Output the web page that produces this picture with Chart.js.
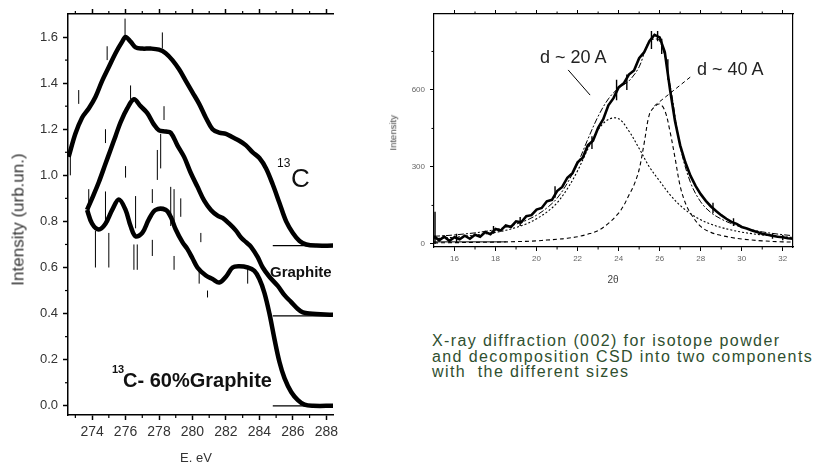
<!DOCTYPE html>
<html lang="en">
<head>
<meta charset="UTF-8">
<title>XANES and X-ray diffraction</title>
<script src="https://cdn.jsdelivr.net/npm/chart.js"></script>
<style>
  body { margin: 0; background: #fff; width: 817px; height: 464px; position: relative; overflow: hidden; }
  canvas { position: absolute; }
  .lbl { position: absolute; white-space: nowrap; line-height: 1; font-family: "Liberation Sans", Arial, sans-serif; color: #111; }
</style>
</head>
<body>
<canvas id="xanes" width="345" height="464" style="left:0;top:0"></canvas>
<canvas id="xrd" width="437" height="300" style="left:380px;top:0"></canvas>

<!-- left panel texts -->
<div class="lbl" style="left:-62px;top:211px;width:160px;text-align:center;font-size:17px;color:#333;transform:rotate(-90deg)">Intensity (urb.un.)</div>
<div class="lbl" style="left:166px;top:451px;width:60px;text-align:center;font-size:13px;color:#333">E. eV</div>
<div class="lbl" style="left:277px;top:157px;font-size:12px">13</div>
<div class="lbl" style="left:291px;top:165px;font-size:26px">C</div>
<div class="lbl" style="left:270px;top:264px;font-size:15px;font-weight:bold">Graphite</div>
<div class="lbl" style="left:112px;top:364px;font-size:11px;font-weight:bold">13</div>
<div class="lbl" style="left:123px;top:370px;font-size:20px;font-weight:bold">C- 60%Graphite</div>

<!-- right panel texts -->
<div class="lbl" style="left:540px;top:48px;font-size:18px;color:#222">d ~ 20 A</div>
<div class="lbl" style="left:697px;top:60px;font-size:18px;color:#222">d ~ 40 A</div>
<div class="lbl" style="left:363px;top:128px;width:60px;text-align:center;font-size:9.5px;color:#444;transform:rotate(-90deg)">Intensity</div>
<div class="lbl" style="left:598px;top:275px;width:30px;text-align:center;font-size:10px;color:#444">2θ</div>
<div class="lbl" style="left:432px;top:333px;font-size:16px;line-height:15.5px;letter-spacing:1.4px;color:#2f4f2f">X-ray diffraction (002) for isotope powder<br>and decomposition CSD into two components<br>with&nbsp; the different sizes</div>

<script>
// ---------- left panel : E (eV) vs intensity ----------
const e13C = [272.6, 273.0, 273.4, 273.8, 274.2, 274.6, 275.0, 275.4, 275.8, 276.0, 276.3, 276.6, 277.0, 277.5, 278.0, 278.4, 278.8, 279.2, 279.6, 280.0, 280.4, 280.8, 281.2, 281.6, 282.0, 282.4, 282.8, 283.2, 283.6, 284.0, 284.4, 284.8, 285.2, 285.6, 286.0, 286.4, 286.8, 287.4, 288.4];
const i13C = [1.08, 1.18, 1.25, 1.29, 1.34, 1.41, 1.47, 1.53, 1.58, 1.60, 1.58, 1.555, 1.55, 1.55, 1.545, 1.53, 1.50, 1.46, 1.41, 1.36, 1.31, 1.25, 1.20, 1.185, 1.18, 1.165, 1.15, 1.13, 1.10, 1.075, 1.03, 0.96, 0.88, 0.80, 0.75, 0.715, 0.70, 0.695, 0.695];

const eGraph = [273.7, 274.0, 274.4, 274.8, 275.1, 275.4, 275.7, 276.1, 276.5, 276.9, 277.3, 277.7, 278.0, 278.4, 278.7, 279.1, 279.5, 279.9, 280.3, 280.7, 281.1, 281.5, 281.8, 282.2, 282.6, 282.9, 283.2, 283.5, 283.9, 284.2, 284.6, 285.1, 285.5, 285.9, 286.3, 286.6, 287.0, 288.4];
const iGraph = [0.85, 0.90, 0.97, 1.05, 1.11, 1.17, 1.23, 1.29, 1.33, 1.30, 1.27, 1.22, 1.195, 1.19, 1.185, 1.13, 1.08, 1.01, 0.95, 0.89, 0.85, 0.825, 0.815, 0.79, 0.76, 0.73, 0.71, 0.69, 0.645, 0.60, 0.56, 0.52, 0.48, 0.45, 0.42, 0.405, 0.40, 0.395];

const eMix = [273.7, 274.0, 274.4, 274.8, 275.2, 275.6, 276.0, 276.3, 276.6, 277.0, 277.4, 277.8, 278.4, 278.7, 279.0, 279.4, 279.7, 280.0, 280.3, 280.8, 281.2, 281.6, 282.0, 282.4, 282.8, 283.3, 283.7, 284.0, 284.3, 284.6, 284.9, 285.2, 285.5, 285.9, 286.3, 286.7, 287.2, 288.4];
const iMix = [0.85, 0.79, 0.765, 0.79, 0.85, 0.895, 0.85, 0.78, 0.735, 0.75, 0.81, 0.85, 0.85, 0.82, 0.765, 0.71, 0.68, 0.64, 0.60, 0.565, 0.55, 0.535, 0.56, 0.60, 0.605, 0.60, 0.585, 0.55, 0.49, 0.40, 0.29, 0.19, 0.12, 0.06, 0.025, 0.005, 0.0, 0.0];

// thin reference lines under the curve ends
const baseE = [284.8, 288.4];
const baseLevels = [0.695, 0.39, 0.0];

// raw-data spikes (E, low, high)
const spikeE  = [275.97, 278.2, 274.9, 273.2, 276.3, 278.3, 278.1, 276.0, 274.8, 273.8, 274.8, 275.0, 274.2, 276.6, 276.5, 276.7, 277.6, 277.9, 278.7, 278.9, 279.3, 277.6, 280.5, 280.4, 278.9, 280.9, 283.3, 272.7];
const spikeLo = [1.60, 1.55, 1.50, 1.31, 1.33, 1.24, 1.03, 0.99, 1.14, 0.86, 0.80, 0.60, 0.60, 0.77, 0.59, 0.59, 0.88, 0.98, 0.78, 0.80, 0.82, 0.65, 0.71, 0.53, 0.59, 0.47, 0.53, 1.00];
const spikeHi = [1.68, 1.62, 1.56, 1.37, 1.39, 1.30, 1.18, 1.04, 1.20, 0.94, 0.93, 0.75, 0.76, 0.91, 0.70, 0.70, 0.94, 1.11, 0.95, 0.94, 0.90, 0.72, 0.75, 0.59, 0.65, 0.50, 0.60, 1.10];

const eTicks = [274, 276, 278, 280, 282, 284, 286, 288];
const eMinor = [273, 275, 277, 279, 281, 283, 285, 287];
const iTicks = [0.0, 0.2, 0.4, 0.6, 0.8, 1.0, 1.2, 1.4, 1.6];
const iMinor = [0.1, 0.3, 0.5, 0.7, 0.9, 1.1, 1.3, 1.5];

// ---------- right panel : 2 theta vs intensity ----------
const tMeas = [15.00, 15.25, 15.50, 15.75, 16.00, 16.25, 16.50, 16.75, 17.00, 17.25, 17.50, 17.75, 18.00, 18.25, 18.50, 18.75, 19.00, 19.25, 19.50, 19.75, 20.00, 20.25, 20.50, 20.75, 21.00, 21.25, 21.50, 21.75, 22.00, 22.25, 22.50, 22.75, 23.00, 23.25, 23.50, 23.75, 24.00, 24.25, 24.50, 24.75, 25.00, 25.25, 25.50, 25.75, 26.00, 26.25, 26.50, 26.75, 27.00, 27.25, 27.50, 27.75, 28.00, 28.25, 28.50, 28.75, 29.00, 29.25, 29.50, 29.75, 30.00, 30.25, 30.50, 30.75, 31.00, 31.25, 31.50, 31.75, 32.00, 32.25, 32.50];
const iMeas = [30, 14, 28, 12, 26, 18, 32, 20, 36, 28, 46, 38, 58, 52, 72, 66, 88, 84, 108, 112, 134, 140, 166, 172, 206, 222, 258, 276, 318, 336, 384, 402, 452, 486, 540, 568, 610, 626, 660, 676, 724, 748, 790, 815, 805, 748, 604, 478, 384, 318, 266, 226, 194, 168, 146, 128, 112, 98, 86, 78, 66, 60, 52, 46, 40, 36, 32, 28, 26, 22, 20];

const tComp1 = [15.0, 15.5, 16.0, 16.5, 17.0, 17.5, 18.0, 18.5, 19.0, 19.5, 20.0, 20.5, 21.0, 21.5, 22.0, 22.5, 23.0, 23.5, 24.0, 24.5, 25.0, 25.5, 26.0, 26.5, 27.0, 27.5, 28.0, 28.5, 29.0, 29.5, 30.0, 30.5, 31.0, 31.5, 32.0, 32.5];
const iComp1 = [20, 23, 26, 30, 34, 39, 45, 53, 64, 78, 98, 124, 160, 215, 285, 370, 445, 485, 488, 440, 372, 300, 245, 192, 150, 118, 94, 77, 64, 54, 46, 40, 35, 31, 28, 25];

const tComp2 = [15.0, 16.0, 17.0, 18.0, 19.0, 19.5, 20.0, 20.5, 21.0, 21.5, 22.0, 22.5, 23.0, 23.5, 24.0, 24.25, 24.5, 24.75, 25.0, 25.25, 25.5, 25.75, 26.0, 26.25, 26.5, 26.75, 27.0, 27.25, 27.5, 28.0, 28.5, 29.0, 29.5, 30.0, 31.0, 32.0, 32.5];
const iComp2 = [4, 5, 6, 7, 9, 10, 12, 15, 18, 22, 28, 38, 52, 80, 120, 150, 190, 230, 290, 395, 505, 535, 545, 520, 440, 335, 225, 160, 120, 68, 45, 33, 25, 19, 12, 8, 7];

const tSum = [15.0, 15.5, 16.0, 16.5, 17.0, 17.5, 18.0, 18.5, 19.0, 19.5, 20.0, 20.5, 21.0, 21.5, 22.0, 22.5, 23.0, 23.5, 24.0, 24.5, 25.0, 25.5, 26.0, 26.5, 27.0, 27.5, 28.0, 28.5, 29.0, 29.5, 30.0, 30.5, 31.0, 31.5, 32.0, 32.5];
const iSum = [30, 32, 35, 39, 43, 49, 56, 65, 77, 92, 112, 140, 178, 237, 313, 408, 497, 565, 608, 635, 690, 790, 792, 622, 380, 240, 164, 122, 97, 79, 65, 55, 47, 41, 36, 32];

const tBase = [15.0, 18.5];
const iBase = [8, 8];

// leader lines of the two labels
const lead20T = [21.54, 22.61], lead20I = [678, 580];
const lead40T = [27.49, 25.68], lead40I = [650, 534];

const xrdSpikeT  = [15.05, 16.1, 17.9, 19.2, 20.9, 22.7, 23.9, 24.4, 25.6, 25.9, 26.1, 26.4, 28.6, 29.6, 31.5, 32.0];
const xrdSpikeLo = [0, 5, 40, 70, 180, 370, 560, 600, 760, 790, 740, 640, 120, 70, 20, 14];
const xrdSpikeHi = [125, 40, 70, 105, 225, 420, 640, 660, 830, 830, 800, 720, 160, 100, 42, 35];

const tTicks = [16, 18, 20, 22, 24, 26, 28, 30, 32];
const tMinor = [17, 19, 21, 23, 25, 27, 29, 31];
const yTicks = [0, 300, 600];
const yMinor = [150, 450, 750];

// ---------- helpers ----------
function pts(xs, ys) { return xs.map((x, i) => ({ x: x, y: ys[i] })); }
function spikes(xs, lo, hi) {
  const out = [];
  xs.forEach((x, i) => { out.push({ x: x, y: lo[i] }, { x: x, y: hi[i] }, { x: x, y: null }); });
  return out;
}
function line(data, width, dash) {
  return { data: data, borderColor: '#000', borderWidth: width, borderDash: dash || [], pointRadius: 0, tension: 0.35, fill: false, spanGaps: false };
}

// minor tick marks drawn through the chart's own scales
const minorTicks = {
  id: 'minorTicks',
  afterDraw(chart, args, opts) {
    const ctx = chart.ctx;
    ctx.save();
    ctx.strokeStyle = '#000';
    ctx.lineWidth = opts.width || 1;
    (opts.items || []).forEach(it => {
      const sc = chart.scales[it.scale];
      it.values.forEach(v => {
        const p = sc.getPixelForValue(v);
        ctx.beginPath();
        if (sc.position === 'bottom') { ctx.moveTo(p, sc.top); ctx.lineTo(p, sc.top + it.len); }
        else if (sc.position === 'top') { ctx.moveTo(p, sc.bottom); ctx.lineTo(p, sc.bottom - it.len); }
        else if (sc.position === 'left') { ctx.moveTo(sc.right, p); ctx.lineTo(sc.right - it.len, p); }
        ctx.stroke();
      });
    });
    ctx.restore();
  }
};

function fixedTicks(values) { return s => { s.ticks = values.map(v => ({ value: v })); }; }

// ---------- left chart ----------
const baseData = [];
baseLevels.forEach(l => { baseData.push({ x: baseE[0], y: l }, { x: baseE[1], y: l }, { x: baseE[1], y: null }); });

const leftAxisStyle = {
  border: { display: true, color: '#000', width: 1.5 },
  grid: { display: true, drawOnChartArea: false, drawTicks: true, tickLength: 5, tickWidth: 1.5, tickColor: '#000' }
};

new Chart(document.getElementById('xanes'), {
  type: 'line',
  data: {
    datasets: [
      line(pts(e13C, i13C), 4.5),
      line(pts(eGraph, iGraph), 4.5),
      line(pts(eMix, iMix), 4.5),
      Object.assign(line(baseData, 1.2), { tension: 0 }),
      Object.assign(line(spikes(spikeE, spikeLo, spikeHi), 1), { tension: 0 })
    ]
  },
  options: {
    responsive: false,
    animation: false,
    layout: { padding: { left: 0, right: 12, top: 0, bottom: 0 } },
    plugins: {
      legend: { display: false },
      tooltip: { enabled: false },
      minorTicks: {
        width: 1.2,
        items: [
          { scale: 'x', values: eMinor, len: 3 },
          { scale: 'x2', values: eMinor, len: 3 },
          { scale: 'y', values: iMinor, len: 3 }
        ]
      }
    },
    scales: {
      x: Object.assign({
        type: 'linear', position: 'bottom', min: 272.56, max: 288.4,
        afterBuildTicks: fixedTicks(eTicks),
        afterFit: s => { s.height = 49; },
        ticks: { color: '#333', padding: 4, font: { family: 'Liberation Sans', size: 14 }, maxRotation: 0, callback: v => String(v) }
      }, leftAxisStyle),
      x2: Object.assign({
        type: 'linear', position: 'top', min: 272.56, max: 288.4,
        afterBuildTicks: fixedTicks(eTicks),
        afterFit: s => { s.height = 14; },
        ticks: { display: false }
      }, leftAxisStyle),
      y: Object.assign({
        type: 'linear', position: 'left', min: -0.04, max: 1.70,
        afterBuildTicks: fixedTicks(iTicks),
        afterFit: s => { s.width = 68; },
        ticks: { color: '#333', padding: 5, font: { family: 'Liberation Sans', size: 13 }, callback: v => v.toFixed(1) }
      }, leftAxisStyle)
    }
  },
  plugins: [minorTicks]
});

// ---------- right chart ----------
const rightAxisStyle = {
  border: { display: true, color: '#000', width: 1.2 },
  grid: { display: true, drawOnChartArea: false, drawTicks: true, tickLength: 4, tickWidth: 1, tickColor: '#000' }
};

new Chart(document.getElementById('xrd'), {
  type: 'line',
  data: {
    datasets: [
      Object.assign(line(pts(tMeas, iMeas), 2.6), { tension: 0 }),
      Object.assign(line(spikes(xrdSpikeT, xrdSpikeLo, xrdSpikeHi), 1.4), { tension: 0 }),
      line(pts(tSum, iSum), 1, [6, 2, 2, 2]),
      line(pts(tComp1, iComp1), 1.1, [2, 2]),
      line(pts(tComp2, iComp2), 1.1, [4, 3]),
      Object.assign(line(pts(tBase, iBase), 1), { tension: 0 }),
      Object.assign(line(pts(lead20T, lead20I), 1), { tension: 0 }),
      Object.assign(line(pts(lead40T, lead40I), 1, [4, 3]), { tension: 0 })
    ]
  },
  options: {
    responsive: false,
    animation: false,
    layout: { padding: { left: 0, right: 24, top: 0, bottom: 0 } },
    plugins: {
      legend: { display: false },
      tooltip: { enabled: false },
      minorTicks: {
        width: 1,
        items: [
          { scale: 'x', values: tMinor, len: 2.5 },
          { scale: 'x2', values: tMinor, len: 2.5 },
          { scale: 'y', values: yMinor, len: 2.5 }
        ]
      }
    },
    scales: {
      x: Object.assign({
        type: 'linear', position: 'bottom', min: 15, max: 32.5,
        afterBuildTicks: fixedTicks(tTicks),
        afterFit: s => { s.height = 53; },
        ticks: { color: '#666', padding: 3, font: { family: 'Liberation Sans', size: 8 }, maxRotation: 0, callback: v => String(v) }
      }, rightAxisStyle),
      x2: Object.assign({
        type: 'linear', position: 'top', min: 15, max: 32.5,
        afterBuildTicks: fixedTicks(tTicks),
        afterFit: s => { s.height = 14; },
        ticks: { display: false }
      }, rightAxisStyle),
      y: Object.assign({
        type: 'linear', position: 'left', min: -12, max: 896,
        afterBuildTicks: fixedTicks(yTicks),
        afterFit: s => { s.width = 54; },
        ticks: { color: '#666', padding: 5, font: { family: 'Liberation Sans', size: 8 }, callback: v => String(v) }
      }, rightAxisStyle),
      y2: {
        type: 'linear', position: 'right', min: -12, max: 896,
        afterFit: s => { s.width = 0; },
        border: { display: true, color: '#000', width: 1.2 },
        grid: { display: false },
        ticks: { display: false }
      }
    }
  },
  plugins: [minorTicks]
});
</script>
</body>
</html>
